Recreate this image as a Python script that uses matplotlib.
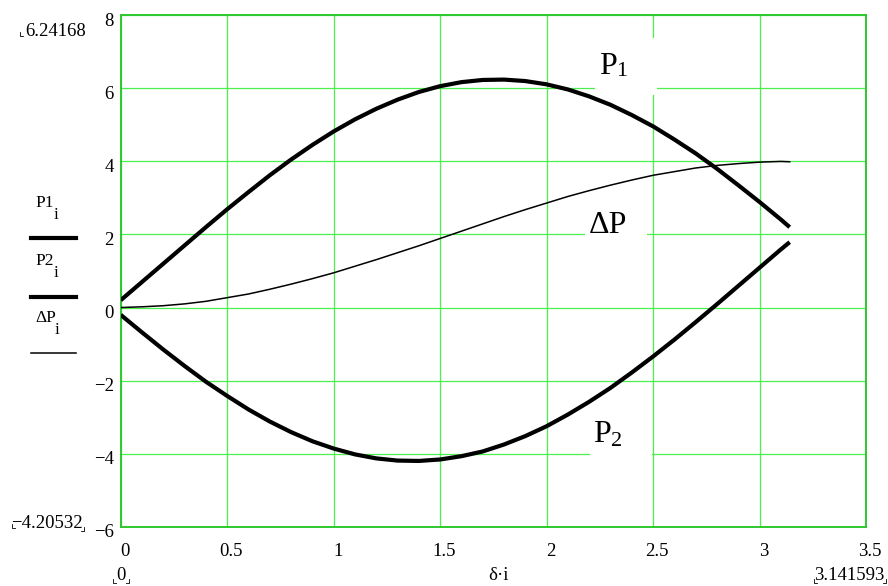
import matplotlib
matplotlib.use("Agg")
import matplotlib.pyplot as plt
import matplotlib.transforms as mtransforms
from matplotlib.patches import Rectangle
from matplotlib.lines import Line2D

# Load angle delta (rad) and the power curves
delta = [0.0, 0.1, 0.2, 0.3, 0.4, 0.5, 0.6, 0.7, 0.8, 0.9, 1.0, 1.1, 1.2, 1.3,
         1.4, 1.5, 1.6, 1.7, 1.8, 1.9, 2.0, 2.1, 2.2, 2.3, 2.4, 2.5, 2.6, 2.7,
         2.8, 2.9, 3.0, 3.1, 3.141593]
P1 = [0.20, 0.70, 1.20, 1.70, 2.20, 2.69, 3.16, 3.62, 4.05, 4.45, 4.82, 5.15,
      5.44, 5.69, 5.90, 6.06, 6.17, 6.23, 6.24, 6.20, 6.11, 5.97, 5.78, 5.55,
      5.27, 4.96, 4.60, 4.22, 3.80, 3.35, 2.89, 2.41, 2.20]
P2 = [-0.20, -0.68, -1.15, -1.60, -2.03, -2.42, -2.79, -3.12, -3.41, -3.66,
      -3.86, -4.02, -4.13, -4.19, -4.20, -4.16, -4.07, -3.94, -3.75, -3.52,
      -3.25, -2.93, -2.58, -2.20, -1.78, -1.34, -0.88, -0.40, 0.09, 0.59,
      1.09, 1.59, 1.79]
dP = [0.00, 0.02, 0.05, 0.10, 0.17, 0.27, 0.37, 0.50, 0.64, 0.79, 0.95, 1.13,
      1.31, 1.50, 1.69, 1.89, 2.09, 2.29, 2.49, 2.68, 2.86, 3.04, 3.20, 3.35,
      3.49, 3.62, 3.72, 3.82, 3.89, 3.94, 3.98, 4.00, 3.99]

x_ticks = [0, 0.5, 1, 1.5, 2, 2.5, 3, 3.5]
x_tick_labels = ["0", "0.5", "1", "1.5", "2", "2.5", "3", "3.5"]
y_ticks = [-6, -4, -2, 0, 2, 4, 6, 8]
y_tick_labels = ["\u22126", "\u22124", "\u22122", "0", "2", "4", "6", "8"]

W, H = 888, 586
SERIF = "Liberation Serif"
GRID = "#4cf04c"
FRAME = "#2ec82e"
FS = 13.5

plt.rcParams["font.family"] = [SERIF, "DejaVu Serif"]

fig = plt.figure(figsize=(W / 100, H / 100), dpi=100)
ax = fig.add_axes([120.7 / W, 1 - 526.7 / H, (866 - 120.7) / W, (526.7 - 15.3) / H])


def px(x, y):
    """Pixel position (from the top-left corner) to figure fraction."""
    return x / W, 1 - y / H


ax.set_xlim(0, 3.5)
ax.set_ylim(-6, 8)
ax.set_xticks(x_ticks)
ax.set_xticklabels(x_tick_labels)
ax.set_yticks(y_ticks)
ax.set_yticklabels(y_tick_labels)
ax.tick_params(length=0, labelsize=FS)
ax.tick_params(axis="x", pad=12)
ax.tick_params(axis="y", pad=5)
xshift = mtransforms.ScaledTranslation(4 / 100, 0, fig.dpi_scale_trans)
yshift = mtransforms.ScaledTranslation(0, -4 / 100, fig.dpi_scale_trans)
for lab in ax.get_xticklabels():
    lab.set_transform(lab.get_transform() + xshift)
for lab in ax.get_yticklabels():
    lab.set_transform(lab.get_transform() + yshift)
ax.set_axisbelow(True)
ax.grid(True, color=GRID, linewidth=0.9)
for sp in ax.spines.values():
    sp.set_color(FRAME)
    sp.set_linewidth(1.4)

ax.plot(delta, P1, color="black", linewidth=3.0, solid_capstyle="butt", zorder=3)
ax.plot(delta, P2, color="black", linewidth=3.0, solid_capstyle="butt", zorder=3)
ax.plot(delta, dP, color="black", linewidth=1.1, zorder=3)

# white boxes behind the curve names
for (bx, by, bw, bh) in [(595, 38, 62, 57), (585, 208, 62, 36), (590, 412, 62, 48)]:
    x0, y1 = px(bx, by + bh)
    ax.add_patch(Rectangle((x0, y1), bw / W, bh / H, transform=fig.transFigure,
                           facecolor="white", edgecolor="none", zorder=1.5))

# curve names
fig.text(*px(599, 66), "P", fontsize=23, va="center", ha="left")
fig.text(*px(616, 72), "1", fontsize=16, va="center", ha="left")
fig.text(*px(589, 225), "\u0394P", fontsize=23, va="center", ha="left")
fig.text(*px(593, 434), "P", fontsize=23, va="center", ha="left")
fig.text(*px(611, 441), "2", fontsize=16, va="center", ha="left")

# legend on the left
legend_rows = [("P1", 203, 238, 3.0, 19), ("P2", 261, 297, 3.0, 19), ("\u0394P", 318, 353, 1.1, 20)]
for name, ty, ly, lw, tw in legend_rows:
    fig.text(*px(35, ty), name, fontsize=12.5, va="center", ha="left")
    fig.text(*px(35 + tw, ty + 12), "i", fontsize=12.5, va="center", ha="left")
    xa, ya = px(31, ly)
    xb, _ = px(76, ly)
    fig.add_artist(Line2D([xa, xb], [ya, ya], color="black", linewidth=lw))

# axis name and plotted range markers
fig.text(*px(498, 575), "\u03b4\u00b7i", fontsize=FS, va="center", ha="center")
fig.text(*px(86, 32), "6.24168", fontsize=FS, va="center", ha="right")
fig.text(*px(83, 523), "\u22124.20532", fontsize=FS, va="center", ha="right")
fig.text(*px(121, 575), "0", fontsize=FS, va="center", ha="center")
fig.text(*px(884, 575), "3.141593", fontsize=FS, va="center", ha="right")


def corner(x, y, right=False):
    """Small corner tick drawn next to a range marker."""
    x0, y0 = px(x, y)
    x1, y1 = px(x, y - 4)
    x2, _ = px(x + (-3 if right else 3), y)
    fig.add_artist(Line2D([x1, x0, x2], [y1, y0, y0], color="black", linewidth=0.6))


corner(20, 36)
corner(12, 528)
corner(84, 531, right=True)
corner(113, 583)
corner(129, 583, right=True)
corner(814, 583)
corner(886, 583, right=True)

fig.savefig("out.png", dpi=100)
